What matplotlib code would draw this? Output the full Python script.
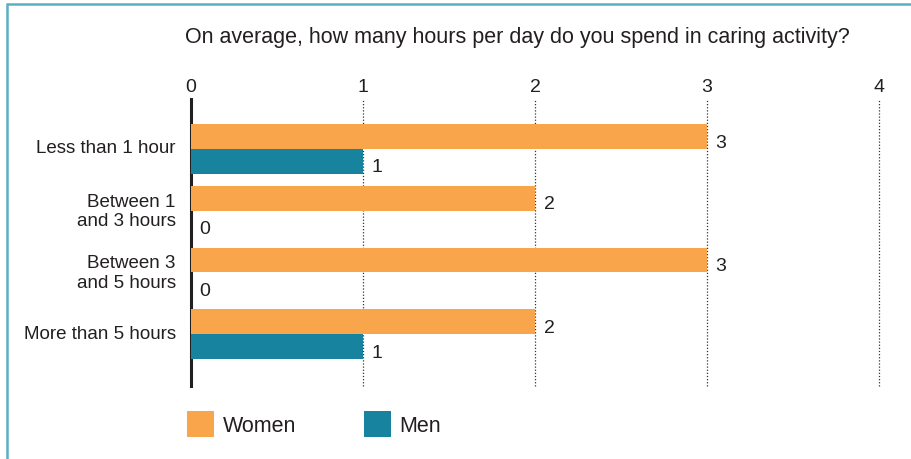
import numpy as np
import matplotlib.pyplot as plt
from matplotlib.patches import Patch, Rectangle

plt.rcParams['font.family'] = ['Liberation Sans', 'DejaVu Sans']

categories = ['Less than 1 hour', 'Between 1\nand 3 hours', 'Between 3\nand 5 hours', 'More than 5 hours']
women = [3, 2, 3, 2]
men = [1, 0, 0, 1]
xticks = [0, 1, 2, 3, 4]

orange = '#F9A54B'
teal = '#17839E'
frame_col = '#5AAFC4'
txt = '#231F20'

fig = plt.figure(figsize=(9.12, 4.6), dpi=100)
ax = fig.add_axes([191 / 912, 1 - 387 / 460, 688 / 912, 287 / 460])

y = np.arange(len(categories))
h = 0.40
ax.barh(y - h / 2, women, height=h, color=orange, zorder=3)
ax.barh(y + h / 2, men, height=h, color=teal, zorder=3)

for i, (w, m) in enumerate(zip(women, men)):
    ax.text(w + 0.05, i - h / 2 + 0.09, str(w), va='center', ha='left', fontsize=14, color=txt)
    ax.text(m + 0.05, i + h / 2 + 0.09, str(m), va='center', ha='left', fontsize=14, color=txt)

ax.set_xlim(0, 4)
ax.set_ylim(3.84, -0.81)
ax.set_yticks(y - 0.05)
ax.set_yticklabels(categories, fontsize=13.5, color=txt, linespacing=1.2)
ax.set_xticks(xticks)
ax.set_xticklabels([str(t) for t in xticks], fontsize=14, color=txt)
ax.xaxis.tick_top()
ax.tick_params(axis='both', length=0)
ax.tick_params(axis='x', pad=3)
ax.tick_params(axis='y', pad=11)

for t in xticks[1:]:
    ax.axvline(t, color='#333333', lw=0.9, ls=(0, (1, 1.5)), zorder=1, clip_on=False)

for s in ['top', 'right', 'bottom']:
    ax.spines[s].set_visible(False)
ax.spines['left'].set_linewidth(2.2)
ax.spines['left'].set_color(txt)

fig.text(517 / 912, 1 - 38 / 460, 'On average, how many hours per day do you spend in caring activity?',
         ha='center', va='center', fontsize=15.5, color=txt)

handles = [Patch(facecolor=orange, label='Women'), Patch(facecolor=teal, label='Men')]
fig.legend(handles=handles, loc='center left', bbox_to_anchor=(168 / 912, 1 - 425 / 460), ncol=2,
           frameon=False, fontsize=15.5, handlelength=1.25, handleheight=1.45, handletextpad=0.4,
           columnspacing=3.15, labelcolor=txt)

fig.patches.append(Rectangle((7 / 912, -0.1), 1.2, 1.1 - 5 / 460, transform=fig.transFigure,
                             fill=False, edgecolor=frame_col, lw=1.8))

fig.savefig('out.png', dpi=100)
